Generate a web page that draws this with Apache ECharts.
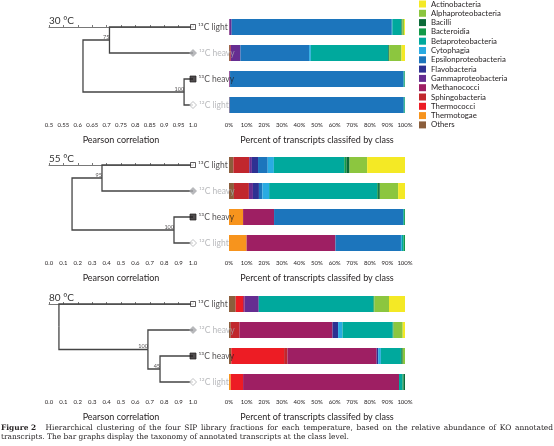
<!DOCTYPE html>
<html>
<head>
<meta charset="utf-8">
<script src="https://cdn.jsdelivr.net/npm/echarts@6.0.0/dist/echarts.min.js"></script>
<style>
html, body { margin: 0; padding: 0; background: #fff; }
#chart { width: 554px; height: 446px; }
</style>
</head>
<body>
<div id="chart"></div>
<script>
const FONT = 'Lato, "Open Sans", sans-serif';
const INK = '#231f20';
const GREY = '#a7a9ac';

// Legend order (top to bottom); bars stack in the reverse order
const classes = ['Actinobacteria', 'Alphaproteobacteria', 'Bacilli', 'Bacteroidia',
  'Betaproteobacteria', 'Cytophagia', 'Epsilonproteobacteria', 'Flavobacteria',
  'Gammaproteobacteria', 'Methanococci', 'Sphingobacteria', 'Thermococci',
  'Thermotogae', 'Others'];
const classColors = ['#f4e925', '#8cc63f', '#0b6a38', '#129a48', '#00a99d', '#29abe2',
  '#1c75bc', '#2e3192', '#662d91', '#9e1f63', '#c1272d', '#ed1c24', '#f7941d', '#8b5e3c'];

const fractions = ['¹³C light', '¹²C heavy', '¹³C heavy', '¹²C light'];
const temps = ['30 °C', '55 °C', '80 °C'];

// percent of transcripts per class, rows = fractions, columns = classes (legend order)
const shares30 = [
  [0.5, 1, 0.4, 0.3, 5, 0.3, 91, 0, 1.2, 0.3, 0, 0, 0, 0],
  [2, 7, 0.5, 0, 44, 1, 39, 0, 5.5, 0, 0.5, 0, 0, 0.5],
  [0, 0, 0, 0.3, 0.5, 0, 98.6, 0, 0.3, 0.3, 0, 0, 0, 0],
  [0, 0, 0, 0.2, 0.5, 0, 99, 0, 0, 0, 0.3, 0, 0, 0]
];
const shares55 = [
  [21.5, 10, 1.8, 1.2, 40, 3.5, 5.5, 3.5, 1.5, 0, 9, 0, 0, 2.5],
  [3.9, 10.4, 1, 0.5, 61.4, 3.8, 2, 3.4, 2.3, 0, 8.5, 0, 0, 2.8],
  [0, 0, 0, 0.5, 0.5, 0, 73.4, 0, 0, 17.6, 0, 0, 8, 0],
  [0, 0, 0, 0.8, 1, 0.5, 37.2, 0, 0, 50.5, 0, 0, 10, 0]
];
const shares80 = [
  [9.1, 8.3, 0, 0.6, 65.1, 0, 0, 0, 8, 0.9, 0, 4.2, 0, 3.8],
  [1.3, 5.2, 0, 0.5, 28.5, 2.5, 0, 3.2, 0, 52.8, 5, 0, 0, 1],
  [0, 1.3, 0.5, 0.5, 11.4, 1.5, 0, 0.9, 0, 50.7, 1.9, 30, 0, 1.3],
  [0, 0, 0.8, 0.6, 2, 0, 0, 0, 0, 88.6, 0, 7, 1, 0]
];

// dendrogram merges: [child a, child b, Pearson correlation, bootstrap]
// leaves are 0..3, each merge creates node 4, 5, 6
const merges30 = [[0, 1, 0.71, '75'], [2, 3, 0.969, '100'], [4, 5, 0.618, '']];
const merges55 = [[0, 1, 0.368, '95'], [2, 3, 0.868, '100'], [4, 5, 0.16, '']];
const merges80 = [[2, 3, 0.771, '45'], [1, 4, 0.687, '100'], [0, 5, 0.069, '']];

const corrTicks30 = ['0.5', '0.55', '0.6', '0.65', '0.7', '0.75', '0.8', '0.85', '0.9', '0.95', '1.0'];
const corrTicks = ['0.0', '0.1', '0.2', '0.3', '0.4', '0.5', '0.6', '0.7', '0.8', '0.9', '1.0'];

const captionLine1 = 'Hierarchical clustering of the four SIP library fractions for each temperature, based on the relative abundance of KO annotated';
const captionLine2 = 'transcripts. The bar graphs display the taxonomy of annotated transcripts at the class level.';

const panels = [
  { shares: shares30, merges: merges30, min: 0.5, step: 0.05, ticks: corrTicks30, top: 14 },
  { shares: shares55, merges: merges55, min: 0, step: 0.1, ticks: corrTicks, top: 152 },
  { shares: shares80, merges: merges80, min: 0, step: 0.1, ticks: corrTicks, top: 291 }
];

const leafMarkers = [
  { symbol: 'rect', size: 5, fill: '#fff', stroke: INK, text: INK },
  { symbol: 'diamond', size: 7, fill: GREY, stroke: GREY, text: GREY },
  { symbol: 'rect', size: 6, fill: INK, stroke: INK, text: INK },
  { symbol: 'diamond', size: 7, fill: '#fff', stroke: GREY, text: GREY }
];

const axisName = { fontFamily: FONT, fontSize: 9, color: INK };
const tickText = { fontFamily: FONT, fontSize: 6, color: INK, margin: 4 };
const CAPTION = '7.45px "DejaVu Serif", serif';

const grid = [], xAxis = [], yAxis = [], series = [], title = [];

panels.forEach((p, i) => {
  grid.push({ left: 49, width: 144, top: p.top, height: 104 });
  grid.push({ left: 229, width: 176, top: p.top, height: 104 });
  const dx = i * 2, bx = i * 2 + 1;

  xAxis.push({
    gridIndex: dx, type: 'value', min: p.min, max: 1, interval: p.step,
    splitLine: { show: false },
    axisLine: { lineStyle: { color: '#555', width: 0.8 } },
    axisTick: { inside: true, length: 2, lineStyle: { color: '#555', width: 0.8 } },
    axisLabel: { ...tickText, formatter: v => p.ticks[Math.round((v - p.min) / p.step)] },
    name: 'Pearson correlation', nameLocation: 'middle', nameGap: 18, nameTextStyle: axisName
  });
  xAxis.push({
    gridIndex: bx, type: 'value', min: 0, max: 100, interval: 10,
    splitLine: { show: false },
    axisLine: { lineStyle: { color: '#555', width: 0.8 } },
    axisTick: { inside: true, length: 2, lineStyle: { color: '#555', width: 0.8 } },
    axisLabel: { ...tickText, formatter: '{value}%' },
    name: 'Percent of transcripts classifed by class', nameLocation: 'middle', nameGap: 18,
    nameTextStyle: axisName
  });
  yAxis.push({ gridIndex: dx, type: 'value', min: -0.5, max: 3.5, inverse: true, show: false });
  yAxis.push({ gridIndex: bx, type: 'category', data: fractions, inverse: true, show: false });

  title.push({ text: temps[i], left: 44, top: p.top - 3,
    textStyle: { fontFamily: FONT, fontSize: 10, fontWeight: 'normal', color: '#333' } });

  // dendrogram
  const nodes = fractions.map((f, k) => ({ x: 1, y: k }));
  const links = [], boot = [];
  p.merges.forEach(([a, b, h, bs]) => {
    const node = { x: h, y: (nodes[a].y + nodes[b].y) / 2 };
    [a, b].forEach(c => links.push({ coords: [[nodes[c].x, nodes[c].y], [h, nodes[c].y], [h, node.y]] }));
    if (bs) boot.push({ value: [node.x, node.y], bs });
    nodes.push(node);
  });
  series.push({
    type: 'lines', coordinateSystem: 'cartesian2d', xAxisIndex: dx, yAxisIndex: dx,
    polyline: true, silent: true, data: links,
    lineStyle: { color: '#444', width: 1.3, opacity: 1 }
  });
  series.push({
    type: 'scatter', xAxisIndex: dx, yAxisIndex: dx, symbolSize: 0, silent: true, data: boot,
    label: { show: true, position: 'left', distance: 0, offset: [0, -3],
      formatter: d => d.data.bs, fontFamily: FONT, fontSize: 5.5, color: INK }
  });
  series.push({
    type: 'scatter', xAxisIndex: dx, yAxisIndex: dx, silent: true, z: 5,
    data: fractions.map((f, k) => ({
      value: [1, k], name: f, symbol: leafMarkers[k].symbol, symbolSize: leafMarkers[k].size,
      itemStyle: { color: leafMarkers[k].fill, borderColor: leafMarkers[k].stroke, borderWidth: 0.9 },
      label: { color: leafMarkers[k].text }
    })),
    label: { show: true, position: 'right', distance: 2, formatter: '{b}',
      fontFamily: FONT, fontSize: 8.5 }
  });

  // stacked bars, drawn from the last legend entry to the first
  for (let c = classes.length - 1; c >= 0; c--) {
    series.push({
      type: 'bar', name: classes[c], xAxisIndex: bx, yAxisIndex: bx, stack: 'p' + i,
      barWidth: 16, silent: true,
      itemStyle: { color: classColors[c] },
      data: p.shares.map(row => row[c])
    });
  }
});

const chart = echarts.init(document.getElementById('chart'), null, { renderer: 'canvas' });
chart.setOption({
  animation: false,
  backgroundColor: '#fff',
  title,
  grid, xAxis, yAxis, series,
  legend: {
    data: classes, orient: 'vertical', left: 419, top: 0, padding: 0,
    icon: 'rect', itemWidth: 7, itemHeight: 7, itemGap: 1.3, selectedMode: false,
    textStyle: { fontFamily: FONT, fontSize: 7.8, color: INK, lineHeight: 8 }
  },
  graphic: [
    // first caption line is justified in the print, so widen its word gaps
    { type: 'text', left: 1, top: 425, style: {
      text: '{b|Figure 2}    ' + captionLine1.split(' ').join('\u2002'),
      font: CAPTION, fill: INK,
      rich: { b: { font: 'bold ' + CAPTION, fill: INK } } } },
    { type: 'text', left: 1, top: 434, style: { text: captionLine2, font: CAPTION, fill: INK } }
  ]
});
</script>
</body>
</html>
